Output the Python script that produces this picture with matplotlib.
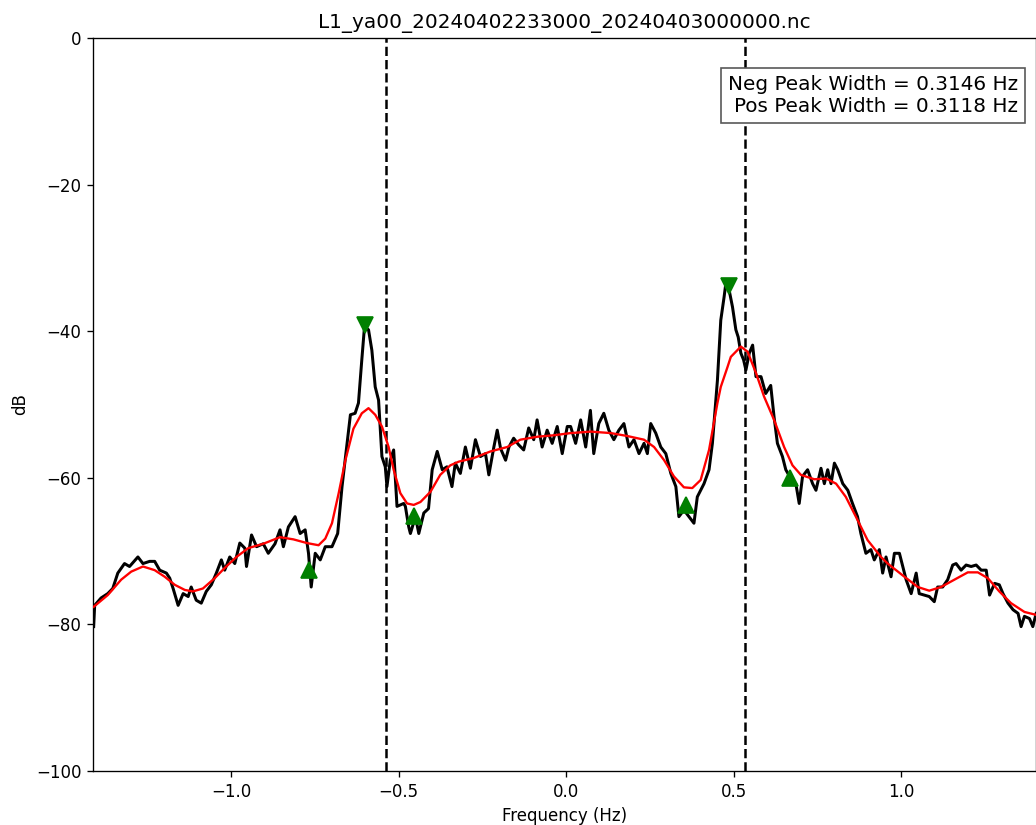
import matplotlib
matplotlib.use("Agg")
import matplotlib.pyplot as plt
import numpy as np

title = "L1_ya00_20240402233000_20240403000000.nc"

# Measured Doppler spectrum (black)
freq = [-1.410, -1.407, -1.388, -1.368, -1.353, -1.338, -1.318, -1.303, -1.278, -1.263,
        -1.243, -1.228, -1.213, -1.193, -1.183, -1.173, -1.158, -1.143, -1.128, -1.119,
        -1.104, -1.089, -1.074, -1.059, -1.044, -1.029, -1.019, -1.004, -0.989, -0.974,
        -0.959, -0.954, -0.939, -0.924, -0.904, -0.889, -0.869, -0.854, -0.844, -0.829,
        -0.809, -0.794, -0.779, -0.769, -0.761, -0.749, -0.734, -0.719, -0.699, -0.682,
        -0.669, -0.654, -0.644, -0.630, -0.620, -0.610, -0.602, -0.590, -0.580, -0.570,
        -0.560, -0.550, -0.540, -0.535, -0.525, -0.515, -0.505, -0.485, -0.480, -0.470,
        -0.465, -0.450, -0.440, -0.425, -0.411, -0.400, -0.385, -0.370, -0.356, -0.341,
        -0.331, -0.316, -0.301, -0.286, -0.271, -0.256, -0.241, -0.231, -0.216, -0.206,
        -0.196, -0.181, -0.171, -0.157, -0.142, -0.127, -0.112, -0.097, -0.087, -0.072,
        -0.057, -0.042, -0.027, -0.012, 0.003, 0.013, 0.028, 0.043, 0.058, 0.072,
        0.082, 0.097, 0.112, 0.127, 0.142, 0.157, 0.172, 0.187, 0.202, 0.217,
        0.232, 0.242, 0.252, 0.267, 0.282, 0.297, 0.312, 0.327, 0.336, 0.351,
        0.366, 0.381, 0.391, 0.411, 0.426, 0.436, 0.451, 0.461, 0.471, 0.476,
        0.486, 0.496, 0.506, 0.513, 0.521, 0.529, 0.536, 0.546, 0.556, 0.566,
        0.581, 0.595, 0.610, 0.620, 0.630, 0.645, 0.655, 0.670, 0.685, 0.695,
        0.705, 0.720, 0.735, 0.745, 0.760, 0.770, 0.780, 0.790, 0.800, 0.810,
        0.825, 0.840, 0.854, 0.869, 0.879, 0.894, 0.909, 0.919, 0.934, 0.944,
        0.954, 0.969, 0.979, 0.994, 1.004, 1.014, 1.029, 1.044, 1.053, 1.068,
        1.083, 1.098, 1.108, 1.123, 1.138, 1.153, 1.163, 1.178, 1.193, 1.208,
        1.223, 1.238, 1.253, 1.263, 1.278, 1.292, 1.303, 1.318, 1.333, 1.348,
        1.357, 1.367, 1.382, 1.392, 1.402]
power_db = [-80.3, -77.4, -76.4, -75.8, -75.1, -73.0, -71.7, -72.1, -70.8, -71.7,
            -71.4, -71.4, -72.6, -73.0, -73.7, -75.1, -77.4, -75.8, -76.2, -74.9,
            -76.7, -77.1, -75.5, -74.6, -73.0, -71.2, -72.6, -70.8, -71.7, -68.9,
            -69.6, -72.1, -67.8, -69.4, -69.0, -70.3, -69.0, -67.1, -69.4, -66.7,
            -65.3, -67.6, -67.1, -70.3, -74.9, -70.3, -71.2, -69.4, -69.4, -67.6,
            -61.2, -55.3, -51.4, -51.2, -49.8, -43.9, -39.4, -39.8, -42.6, -47.6,
            -49.4, -57.1, -58.5, -61.2, -57.6, -56.2, -63.9, -63.5, -63.9, -66.7,
            -67.6, -65.3, -67.6, -64.8, -64.2, -58.9, -56.4, -58.9, -58.5, -61.2,
            -58.0, -59.4, -55.8, -58.7, -54.8, -57.1, -56.7, -59.6, -55.8, -53.5,
            -56.0, -57.6, -55.8, -54.6, -55.5, -56.2, -53.2, -54.8, -52.1, -55.8,
            -53.5, -55.3, -53.0, -56.7, -53.0, -53.0, -55.3, -52.1, -55.8, -50.8,
            -56.7, -52.6, -51.2, -53.5, -54.8, -53.5, -52.6, -55.8, -54.8, -56.7,
            -55.3, -56.7, -52.6, -53.9, -55.8, -56.7, -59.4, -61.2, -65.3, -64.4,
            -65.3, -66.2, -62.6, -60.8, -58.9, -55.3, -46.7, -38.5, -35.3, -33.5,
            -34.4, -36.7, -39.8, -40.8, -43.0, -43.9, -45.3, -43.0, -41.9, -46.2,
            -46.2, -48.5, -47.4, -51.7, -55.3, -57.1, -58.9, -60.1, -60.8, -63.5,
            -59.8, -58.9, -60.8, -61.7, -58.7, -60.8, -58.9, -60.8, -58.0, -58.9,
            -60.8, -61.7, -63.5, -65.3, -67.6, -70.3, -69.8, -71.2, -69.8, -73.0,
            -70.8, -73.5, -70.3, -70.3, -72.1, -73.9, -75.8, -73.0, -75.8, -76.0,
            -76.2, -76.9, -74.9, -74.9, -73.9, -71.9, -71.7, -72.6, -71.9, -72.1,
            -71.9, -72.6, -72.6, -76.0, -74.4, -74.6, -75.8, -77.1, -78.0, -78.5,
            -80.3, -78.9, -79.2, -80.3, -78.5]

# Smoothed spectrum (red)
smooth_freq = [-1.410, -1.368, -1.328, -1.298, -1.263, -1.228, -1.198, -1.168, -1.138, -1.114,
               -1.084, -1.049, -1.019, -0.984, -0.949, -0.919, -0.904, -0.854, -0.814, -0.774,
               -0.739, -0.719, -0.699, -0.679, -0.659, -0.635, -0.610, -0.590, -0.570, -0.550,
               -0.530, -0.515, -0.495, -0.475, -0.455, -0.435, -0.405, -0.376, -0.346, -0.321,
               -0.276, -0.226, -0.176, -0.137, -0.087, -0.037, 0.013, 0.073, 0.133, 0.182,
               0.232, 0.262, 0.292, 0.321, 0.351, 0.376, 0.401, 0.426, 0.451, 0.461,
               0.481, 0.491, 0.521, 0.541, 0.566, 0.590, 0.620, 0.650, 0.675, 0.700,
               0.740, 0.775, 0.805, 0.834, 0.864, 0.899, 0.939, 0.959, 1.009, 1.049,
               1.083, 1.118, 1.158, 1.198, 1.228, 1.258, 1.292, 1.327, 1.367, 1.402]
smooth_db = [-77.6, -76.0, -73.9, -72.8, -72.1, -72.6, -73.5, -74.6, -75.3, -75.5,
             -75.1, -73.7, -72.3, -70.8, -69.6, -69.2, -69.0, -68.1, -68.4, -68.9,
             -69.2, -68.3, -66.2, -62.1, -57.6, -53.3, -51.2, -50.5, -51.4, -53.0,
             -55.8, -58.9, -62.1, -63.5, -63.7, -63.3, -61.9, -59.6, -58.3, -57.8,
             -57.3, -56.4, -55.8, -54.8, -54.4, -54.2, -53.9, -53.7, -53.9, -54.3,
             -54.8, -55.8, -57.6, -59.8, -61.3, -61.4, -60.3, -56.2, -49.8, -47.6,
             -44.9, -43.5, -42.1, -42.8, -45.7, -48.9, -52.1, -55.8, -58.3, -59.6,
             -60.2, -60.1, -60.8, -62.6, -65.3, -68.5, -70.8, -71.7, -73.5, -74.9,
             -75.4, -74.9, -73.9, -72.9, -72.9, -73.7, -75.5, -77.1, -78.3, -78.7]

# Spectral peaks and the minima that bound each first-order peak
peak_freq = [-0.600, 0.485]
peak_db = [-39.2, -33.8]
neg_min_freq = [-0.7676, -0.4530]
neg_min_db = [-72.6, -65.2]
pos_min_freq = [0.3560, 0.6678]
pos_min_db = [-63.7, -60.0]

# Bragg frequencies (negative, positive)
bragg_freq = [-0.538, 0.534]

neg_width = neg_min_freq[1] - neg_min_freq[0]
pos_width = pos_min_freq[1] - pos_min_freq[0]

fig = plt.figure(figsize=(1036 / 120, 825 / 120), dpi=120)
ax = fig.add_axes([93 / 1036, 1 - 771 / 825, (1035.5 - 93) / 1036, (771 - 38) / 825])

ax.plot(freq, power_db, color="black", lw=1.8, zorder=2)
ax.plot(smooth_freq, smooth_db, color="red", lw=1.4, zorder=3)
ax.plot(peak_freq, peak_db, "v", color="green", ms=10, zorder=4, linestyle="none")
ax.plot(neg_min_freq + pos_min_freq, neg_min_db + pos_min_db, "^", color="green",
        ms=10, zorder=4, linestyle="none")
for fb in bragg_freq:
    ax.axvline(fb, color="black", ls="--", lw=1.5, zorder=1)

ax.set_xlim(-1.412, 1.400)
ax.set_ylim(-100, 0)
ax.set_xticks([-1.0, -0.5, 0.0, 0.5, 1.0])
ax.set_xlabel("Frequency (Hz)")
ax.set_ylabel("dB")
ax.set_title(title)

ax.text(0.9815, 0.949,
        f"Neg Peak Width = {neg_width:.4f} Hz\nPos Peak Width = {pos_width:.4f} Hz",
        transform=ax.transAxes, ha="right", va="top", multialignment="right",
        fontsize=12,
        bbox=dict(boxstyle="square,pad=0.35", facecolor="white", edgecolor="0.35", lw=1))

fig.savefig("out.png", dpi=120)
